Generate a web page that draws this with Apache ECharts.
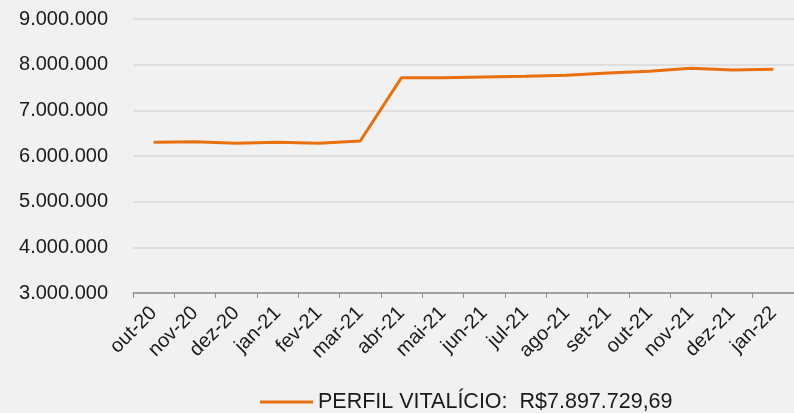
<!DOCTYPE html>
<html>
<head>
<meta charset="utf-8">
<script src="https://cdn.jsdelivr.net/npm/echarts@6/dist/echarts.min.js"></script>
<style>
  html, body { margin: 0; padding: 0; background: #f1f1f2; }
  #chart { width: 794px; height: 413px; }
</style>
</head>
<body>
<div id="chart"></div>
<script>
// meses
const months = ["out-20", "nov-20", "dez-20", "jan-21", "fev-21", "mar-21", "abr-21", "mai-21",
  "jun-21", "jul-21", "ago-21", "set-21", "out-21", "nov-21", "dez-21", "jan-22"];
// saldo do perfil vitalício
const vitalicio = [6300000, 6313000, 6278000, 6300000, 6278000, 6329000, 7715000, 7715000,
  7730000, 7745000, 7767000, 7818000, 7855000, 7920000, 7883000, 7897730];
const seriesName = "PERFIL VITALÍCIO:  R$7.897.729,69";
const yMin = 3000000, yMax = 9000000, yStep = 1000000;

const chart = echarts.init(document.getElementById("chart"));

function fmt(v) {
  return String(v).replace(/\B(?=(\d{3})+(?!\d))/g, ".");
}

chart.setOption({
  backgroundColor: "#f1f1f2",
  textStyle: { fontFamily: "Liberation Sans, Arial, sans-serif" },
  grid: { left: 133, top: 19, width: 672, bottom: 120, containLabel: false },
  legend: {
    bottom: 0,
    left: 260,
    padding: 0,
    itemWidth: 53,
    itemHeight: 3,
    itemGap: 6,
    icon: "rect",
    textStyle: { fontSize: 21.5, color: "#1a1a1a", fontFamily: "Liberation Sans, Arial, sans-serif" },
    data: [seriesName]
  },
  xAxis: {
    type: "category",
    data: months,
    boundaryGap: true,
    axisLine: { lineStyle: { color: "#8c8c8c", width: 1.5 } },
    axisTick: { show: true, length: 5, lineStyle: { color: "#8c8c8c" } },
    axisLabel: { rotate: 45, fontSize: 20, color: "#1a1a1a", margin: 17 }
  },
  yAxis: {
    type: "value",
    min: yMin,
    max: yMax,
    interval: yStep,
    axisLine: { show: false },
    axisTick: { show: false },
    axisLabel: { fontSize: 20, color: "#1a1a1a", margin: 25, formatter: fmt },
    splitLine: { lineStyle: { color: "#d8d8d8", width: 1.5 } }
  },
  series: [{
    name: seriesName,
    type: "line",
    data: vitalicio,
    symbol: "none",
    lineStyle: { color: "#e8700e", width: 3 },
    itemStyle: { color: "#e8700e" }
  }]
});
</script>
</body>
</html>
